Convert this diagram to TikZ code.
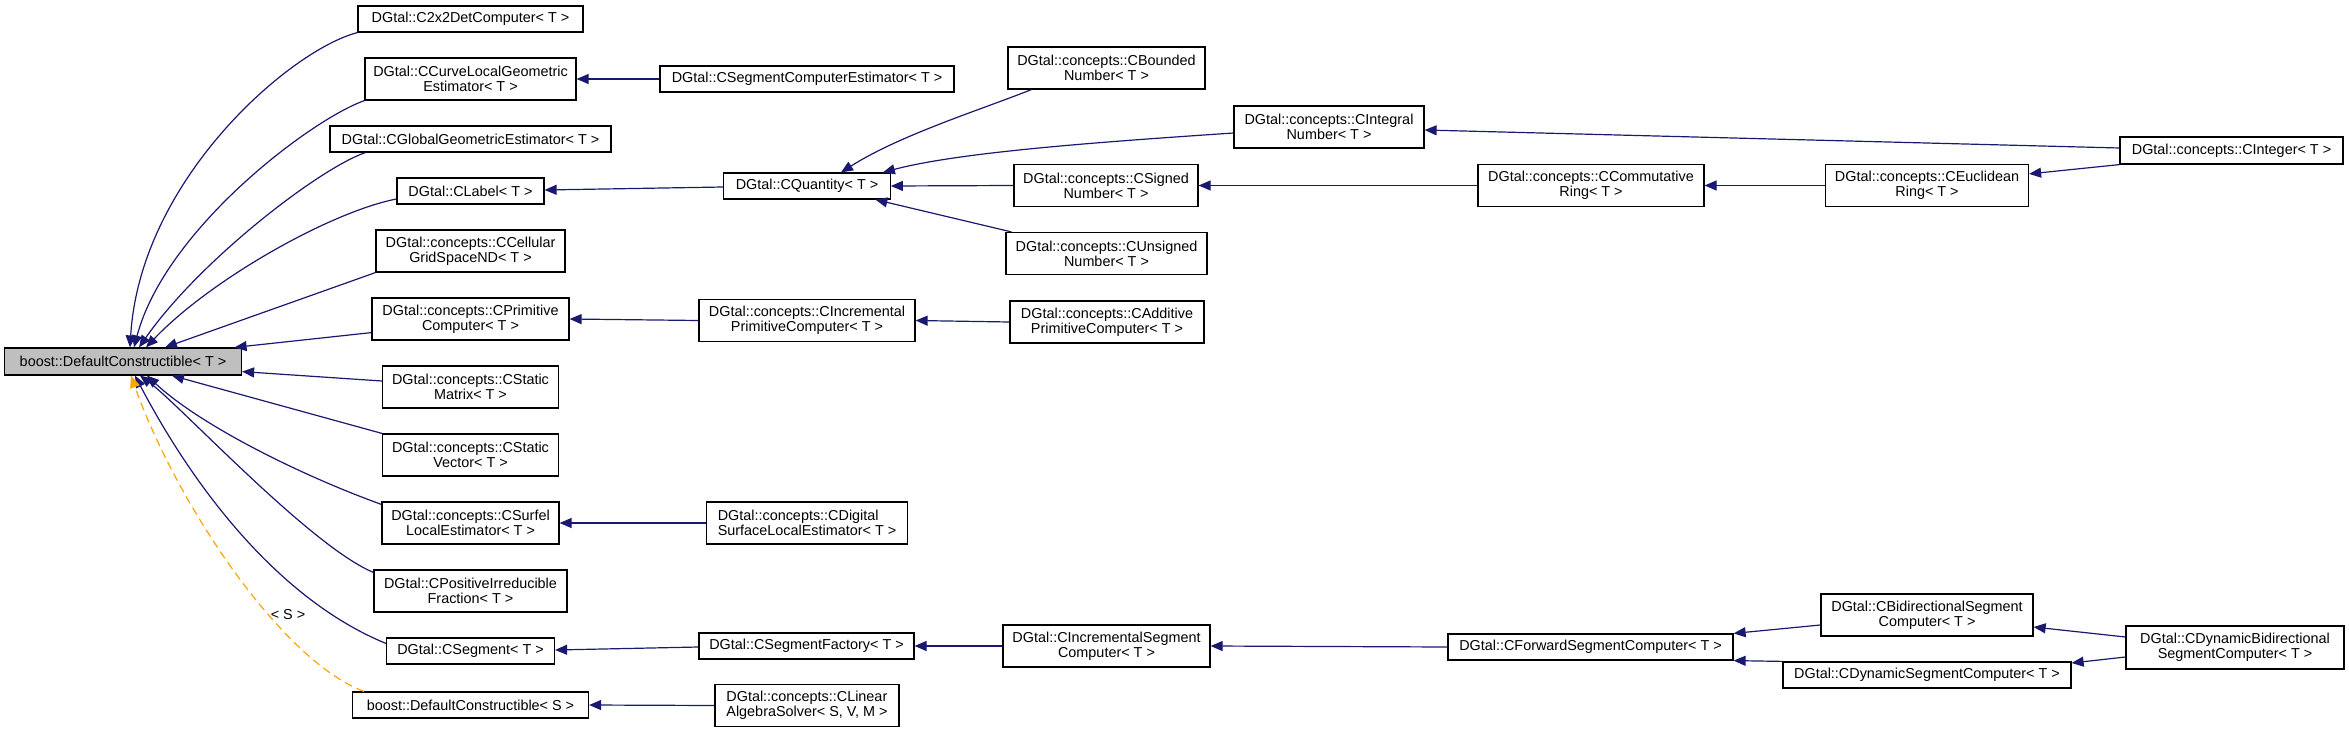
\documentclass[tikz,border=0pt]{standalone}
\usepackage{fontspec}
\setmainfont{Liberation Sans}
\usetikzlibrary{arrows.meta,calc}
\definecolor{edgeblue}{HTML}{191970}
\definecolor{dashorange}{HTML}{FFA500}
\definecolor{boxgray}{HTML}{BFBFBF}
\newcommand\graphfont{\fontsize{7.2pt}{7.5pt}\selectfont}
\begin{document}
\begin{tikzpicture}[x=0.5pt,y=-0.5pt,
  cls/.style={draw=black,line width=0.6pt,fill=white,inner sep=0pt,align=center,font=\graphfont},
  cbox/.style 2 args={cls,minimum width={#1*0.5pt},minimum height={#2*0.5pt}},
  edge/.style={draw=edgeblue,line width=0.6pt,-{Triangle[length=6pt,width=5pt]}},
  dedge/.style={draw=dashorange,line width=0.6pt,dash pattern=on 4pt off 2.5pt,-{Triangle[length=6pt,width=5pt]}},
  elabel/.style={inner sep=0pt,font=\graphfont}]
\fill[white] (0,0) rectangle (2349,733);
\useasboundingbox (0,0) rectangle (2349,733);
% column 1
\node[cbox={237}{27},fill=boxgray] (boostT) at (123,361.5) {boost::DefaultConstructible< T >};
% column 2
\node[cbox={225}{26}] (c2x2) at (470.5,19) {DGtal::C2x2DetComputer< T >};
\node[cbox={211}{42}] (curve) at (470.5,79) {DGtal::CCurveLocalGeometric\\Estimator< T >};
\node[cbox={281}{26}] (global) at (470.5,139) {DGtal::CGlobalGeometricEstimator< T >};
\node[cbox={147}{26}] (label) at (470.5,191) {DGtal::CLabel< T >};
\node[cbox={189}{42}] (cell) at (470.5,251) {DGtal::concepts::CCellular\\GridSpaceND< T >};
\node[cbox={197}{42}] (prim) at (470.5,319) {DGtal::concepts::CPrimitive\\Computer< T >};
\node[cbox={176}{42}] (smat) at (470.5,387) {DGtal::concepts::CStatic\\Matrix< T >};
\node[cbox={176}{42}] (svec) at (470.5,455) {DGtal::concepts::CStatic\\Vector< T >};
\node[cbox={177}{42}] (surf) at (470.5,523) {DGtal::concepts::CSurfel\\LocalEstimator< T >};
\node[cbox={193}{42}] (frac) at (470.5,591) {DGtal::CPositiveIrreducible\\Fraction< T >};
\node[cbox={168}{26}] (seg) at (470.5,651) {DGtal::CSegment< T >};
\node[cbox={236}{26}] (boostS) at (470.5,705) {boost::DefaultConstructible< S >};
% column 3
\node[cbox={294}{26}] (segest) at (807,79) {DGtal::CSegmentComputerEstimator< T >};
\node[cbox={166.5}{26}] (quant) at (807,186) {DGtal::CQuantity< T >};
\node[cbox={216}{42}] (incprim) at (807,320.5) {DGtal::concepts::CIncremental\\PrimitiveComputer< T >};
\node[cbox={201}{42},align=left] (digital) at (807,523) {DGtal::concepts::CDigital\\SurfaceLocalEstimator< T >};
\node[cbox={215}{26}] (factory) at (806.5,646) {DGtal::CSegmentFactory< T >};
\node[cbox={184}{42},align=left] (linear) at (807,705.5) {DGtal::concepts::CLinear\\AlgebraSolver< S, V, M >};
% column 4
\node[cbox={197}{42}] (bounded) at (1106.5,68) {DGtal::concepts::CBounded\\Number< T >};
\node[cbox={184}{42}] (signed) at (1106,185.5) {DGtal::concepts::CSigned\\Number< T >};
\node[cbox={201}{42}] (unsigned) at (1106.5,253.5) {DGtal::concepts::CUnsigned\\Number< T >};
\node[cbox={194}{42}] (additive) at (1107,322) {DGtal::concepts::CAdditive\\PrimitiveComputer< T >};
\node[cbox={207}{42}] (incseg) at (1106.5,646) {DGtal::CIncrementalSegment\\Computer< T >};
% column 5
\node[cbox={190}{42}] (integral) at (1329,127) {DGtal::concepts::CIntegral\\Number< T >};
% column 6
\node[cbox={226}{42}] (comm) at (1591,185.5) {DGtal::concepts::CCommutative\\Ring< T >};
\node[cbox={285}{26}] (forward) at (1590.5,647) {DGtal::CForwardSegmentComputer< T >};
% column 7
\node[cbox={203}{42}] (eucl) at (1927,185.5) {DGtal::concepts::CEuclidean\\Ring< T >};
\node[cbox={212}{42}] (bidir) at (1927,615) {DGtal::CBidirectionalSegment\\Computer< T >};
\node[cbox={288}{26}] (dynseg) at (1927,675) {DGtal::CDynamicSegmentComputer< T >};
% column 8
\node[cbox={223}{27}] (integer) at (2231.5,150.5) {DGtal::concepts::CInteger< T >};
\node[cbox={218}{43}] (dynbidir) at (2235,647.5) {DGtal::CDynamicBidirectional\\SegmentComputer< T >};
% edges into boost::DefaultConstructible<T>
\draw[edge] (c2x2.south west) .. controls (290,50) and (140,180) .. ($(boostT.north)+(7,0)$);
\draw[edge] (curve.south west) .. controls (310,120) and (165,230) .. ($(boostT.north)+(11,0)$);
\draw[edge] ($(global.south west)+(36,0)$) .. controls (320,168) and (200,260) .. ($(boostT.north)+(16,0)$);
\draw[edge] ($(label.west)+(0,8)$) .. controls (330,212) and (210,280) .. ($(boostT.north)+(23,0)$);
\draw[edge] (cell.south west) -- ($(boostT.north)+(42,0)$);
\draw[edge] ($(prim.south west)+(0,-8)$) -- ($(boostT.north east)+(-7.5,0)$);
\draw[edge] ($(smat.west)+(0,-6)$) -- ($(boostT.south east)+(0,-4)$);
\draw[edge] (svec.north west) -- ($(boostT.south)+(49,0)$);
\draw[edge] ($(surf.north west)+(0,3)$) .. controls (300,475) and (200,425) .. ($(boostT.south)+(24,0)$);
\draw[edge] ($(frac.north west)+(0,3)$) .. controls (310,546) and (180,405) .. ($(boostT.south)+(17,0)$);
\draw[edge] ($(seg.north west)+(0,6)$) .. controls (280,600) and (195,490) .. ($(boostT.south)+(12,0)$);
\draw[dedge] ($(boostS.north west)+(12,0)$) .. controls (280,660) and (175,500) .. ($(boostT.south)+(8,0)$);
\node[elabel] (slabel) at (288,615) {< S >};
% other edges
\draw[edge] (segest.west) -- (curve.east);
\draw[edge] ($(quant.west)+(0,1)$) -- ($(label.east)+(0,-1)$);
\draw[edge] ($(bounded.south west)+(24,0)$) .. controls (980,110) and (900,135) .. ($(quant.north)+(34,0)$);
\draw[edge] ($(integral.west)+(0,6)$) .. controls (1100,142) and (960,152) .. ($(quant.north east)+(-8,0)$);
\draw[edge] (signed.west) -- (quant.east);
\draw[edge] ($(unsigned.north west)+(6,0)$) -- ($(quant.south east)+(-15.5,0)$);
\draw[edge] (comm.west) -- (signed.east);
\draw[edge] (eucl.west) -- (comm.east);
\draw[edge] (integer.south west) -- ($(eucl.north east)+(0,10)$);
\draw[edge] ($(integer.west)+(0,-2.5)$) -- ($(integral.east)+(0,3)$);
\draw[edge] (incprim.west) -- (prim.east);
\draw[edge] (additive.west) -- (incprim.east);
\draw[edge] (digital.west) -- (surf.east);
\draw[edge] ($(factory.west)+(0,1)$) -- ($(seg.east)+(0,-1)$);
\draw[edge] (incseg.west) -- (factory.east);
\draw[edge] (forward.west) -- (incseg.east);
\draw[edge] ($(bidir.west)+(0,10)$) -- (forward.north east);
\draw[edge] (dynseg.north west) -- (forward.south east);
\draw[edge] ($(dynbidir.west)+(0,-10.5)$) -- ($(bidir.east)+(0,12)$);
\draw[edge] ($(dynbidir.west)+(0,9.5)$) -- ($(dynseg.east)+(0,-12)$);
\draw[edge] (linear.west) -- (boostS.east);
\end{tikzpicture}
\end{document}
